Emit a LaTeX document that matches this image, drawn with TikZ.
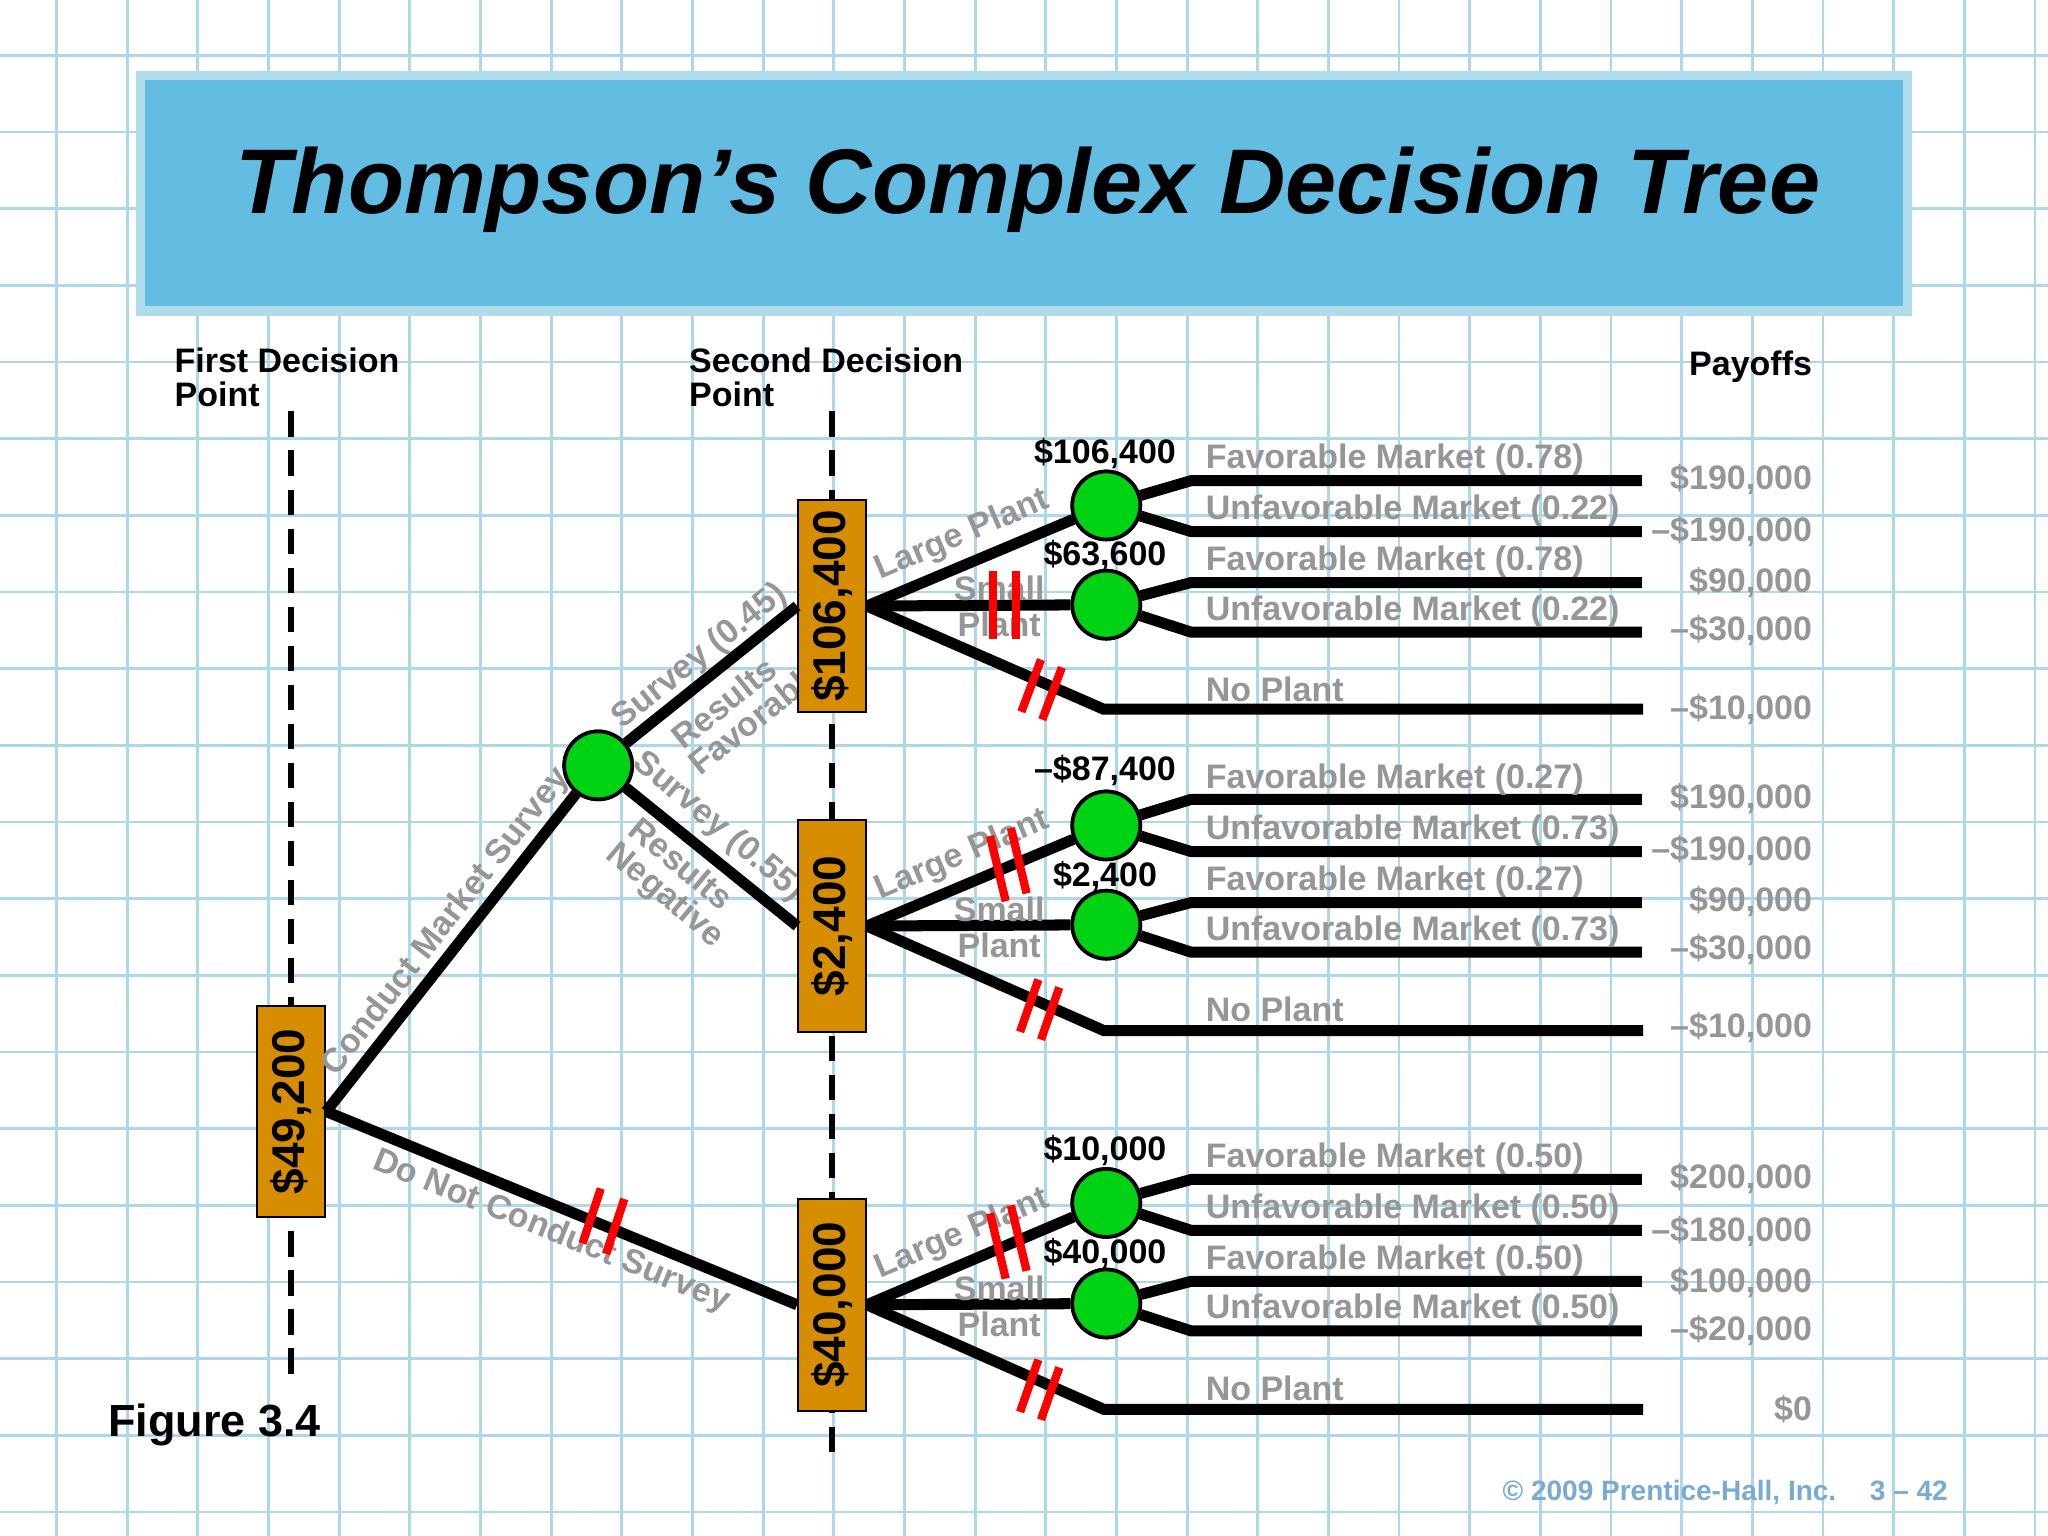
\documentclass[tikz,border=0pt]{standalone}
\usepackage{fontspec}
\setmainfont{Liberation Sans}
\definecolor{gridc}{RGB}{175,215,235}
\definecolor{boxc}{RGB}{214,142,0}
\definecolor{greenc}{RGB}{0,210,20}
\definecolor{grayc}{RGB}{150,150,150}
\definecolor{titlec}{RGB}{99,188,226}
\definecolor{titleb}{RGB}{175,220,235}
\definecolor{copyc}{RGB}{120,170,210}
\begin{document}
\begin{tikzpicture}[x=0.01cm,y=-0.01cm,
  box/.style={draw=black,fill=boxc,minimum width=0.52cm,minimum height=1.62cm,inner sep=0pt},
  chance/.style={circle,draw=black,line width=0.8pt,fill=greenc,minimum size=0.52cm,inner sep=0pt},
  br/.style={line width=2.4pt,black},
  lab/.style={text=grayc,font=\bfseries\fontsize{7.4}{7.8}\selectfont,inner sep=1pt},
  pay/.style={text=grayc,font=\bfseries\fontsize{7.4}{8}\selectfont,anchor=east,inner sep=0pt},
  val/.style={font=\bfseries\fontsize{7.4}{8}\selectfont,inner sep=0pt},
  bv/.style={font=\bfseries\fontsize{10}{10}\selectfont,rotate=90},
  hd/.style={font=\bfseries\fontsize{7.4}{7.4}\selectfont,anchor=north west,align=left,inner sep=0pt},
  hash/.style={red,line width=1.8pt},
  dl/.style={line width=1.3pt,dash pattern=on 5.5pt off 3pt}]
\useasboundingbox (0,0) rectangle (1568,1176);
\fill[white] (0,0) rectangle (1568,1176);
\foreach \k in {0,...,28} \draw[gridc,line width=0.6pt] ({43.3+54.1*\k},0)--({43.3+54.1*\k},1176);
\foreach \k in {-1,...,19} \draw[gridc,line width=0.6pt] (0,{42.4+58.7*\k})--(1568,{42.4+58.7*\k});
% title
\node[draw=titleb,line width=2pt,fill=titlec,minimum width=13.52cm,minimum height=1.8cm,inner sep=0pt] (title) at (784,148) {};
\node[font=\bfseries\itshape\fontsize{20}{22}\selectfont] at (787,145) {Thompson’s Complex Decision Tree};
% headers
\node[hd] (h1) at (133,266) {First Decision\\Point};
\node[hd] (h2) at (527,266) {Second Decision\\Point};
\node[hd,anchor=north east] (h3) at (1388,268) {Payoffs};
\draw[dl] (223,315)--(223,1055);
\draw[dl] (637,315)--(637,1115);
% coords
\coordinate (e1) at (912,368); \coordinate (e2) at (912,407);
\coordinate (e3) at (912,446); \coordinate (e4) at (912,484);
\coordinate (e5) at (912,612); \coordinate (e6) at (912,652);
\coordinate (e7) at (912,691); \coordinate (e8) at (912,729);
\coordinate (e9) at (912,903); \coordinate (e10) at (912,942);
\coordinate (e11) at (912,981); \coordinate (e12) at (912,1019);
\coordinate (npA) at (845,543); \coordinate (npB) at (845,789); \coordinate (npC) at (845,1079);
\foreach \i/\y in {1/368,2/407,3/446,4/484,5/612,6/652,7/691,8/729,9/903,10/942,11/981,12/1019} \coordinate (f\i) at (1257,\y);
\coordinate (gA) at (1258,543); \coordinate (gB) at (1258,789); \coordinate (gC) at (1258,1079);
% survey labels (behind boxes)
\node[lab,rotate=38.6] at (536,503) {Survey (0.45)};
\node[lab,rotate=38.6] at (554,538) {Results};
\node[lab,rotate=38.6,anchor=south west,inner sep=0pt] at (536,596) {Favorable};
\node[lab,rotate=-40] at (550,633) {Survey (0.55)};
\node[lab,rotate=-40] at (522,661) {Results};
\node[lab,rotate=-40] at (509,686) {Negative};
% nodes
\node[box] (b0) at (223,851) {};
\node[box] (bA) at (637,464) {};
\node[box] (bB) at (637,709) {};
\node[box] (bC) at (637,999) {};
\node[chance] (s) at (458,586) {};
\node[chance] (c1) at (847,387) {};
\node[chance] (c2) at (847,463) {};
\node[chance] (c3) at (847,632) {};
\node[chance] (c4) at (847,708) {};
\node[chance] (c5) at (847,921) {};
\node[chance] (c6) at (847,998) {};
% branches
\draw[br] (b0.east) -- (s);
\draw[br] (b0.east) -- (bC.west);
\draw[br] (s) -- (bA.west);
\draw[br] (s) -- (bB.west);
\draw[br] (bA.east) -- (c1); \draw[br] (bA.east) -- (c2); \draw[br] (bA.east) -- (npA) -- (gA);
\draw[br] (bB.east) -- (c3); \draw[br] (bB.east) -- (c4); \draw[br] (bB.east) -- (npB) -- (gB);
\draw[br] (bC.east) -- (c5); \draw[br] (bC.east) -- (c6); \draw[br] (bC.east) -- (npC) -- (gC);
\foreach \c/\a/\b in {c1/1/2,c2/3/4,c3/5/6,c4/7/8,c5/9/10,c6/11/12}{
  \draw[br] (\c) -- (e\a) -- (f\a);
  \draw[br] (\c) -- (e\b) -- (f\b);}
\node[chance] at (s) {};
\node[chance] at (c1) {}; \node[chance] at (c2) {}; \node[chance] at (c3) {};
\node[chance] at (c4) {}; \node[chance] at (c5) {}; \node[chance] at (c6) {};
% box values
\node[bv] at (b0) {\$49,200};
\node[bv] at (bA) {\$106,400};
\node[bv] at (bB) {\$2,400};
\node[bv] at (bC) {\$40,000};
% node values
\node[val] at (846,347) {\$106,400};
\node[val] at (846,425) {\$63,600};
\node[val] at (846,590) {--\$87,400};
\node[val] at (846,671) {\$2,400};
\node[val] at (846,881) {\$10,000};
\node[val] at (846,960) {\$40,000};
% outcome labels
\foreach \y/\t in {352/Favorable Market (0.78),391/Unfavorable Market (0.22),430/Favorable Market (0.78),468/Unfavorable Market (0.22),528/No Plant,
597/Favorable Market (0.27),636/Unfavorable Market (0.73),675/Favorable Market (0.27),713/Unfavorable Market (0.73),773/No Plant,
887/Favorable Market (0.50),926/Unfavorable Market (0.50),965/Favorable Market (0.50),1003/Unfavorable Market (0.50),1063/No Plant}
  \node[lab,anchor=west] at (919,\y) {\t};
% payoffs
\foreach \y/\t in {367/\$190{,}000,407/--\$190{,}000,446/\$90{,}000,483/--\$30{,}000,543/--\$10{,}000,
611/\$190{,}000,651/--\$190{,}000,690/\$90{,}000,727/--\$30{,}000,787/--\$10{,}000,
902/\$200{,}000,943/--\$180{,}000,982/\$100{,}000,1019/--\$20{,}000,1079/\$0}
  \node[pay] at (1388,\y) {\t};
% branch labels
\node[lab,rotate=23] at (737,410) {Large Plant};
\node[lab,align=center] at (765,464) {Small\\Plant};
\node[lab,rotate=23] at (737,655) {Large Plant};
\node[lab,align=center] at (765,710) {Small\\Plant};
\node[lab,rotate=23] at (737,945) {Large Plant};
\node[lab,align=center] at (765,1000) {Small\\Plant};
\node[lab,rotate=52] at (342,706) {Conduct Market Survey};
\node[lab,rotate=-22] at (422,943) {Do Not Conduct Survey};
% hash marks
\draw[hash] (760,437)--(760,489) (778,437)--(778,489);
\draw[hash] (797,505)--(782,545) (813,511)--(798,551);
\draw[hash] (460,910)--(446,952) (478,918)--(464,960);
\draw[hash] (758,640)--(770,690) (774,634)--(786,684);
\draw[hash] (795,750)--(781,790) (811,756)--(797,796);
\draw[hash] (758,929)--(770,979) (774,923)--(786,973);
\draw[hash] (795,1041)--(781,1081) (811,1047)--(797,1087);
% footer
\node[font=\bfseries\fontsize{9.8}{10}\selectfont,anchor=west,inner sep=0pt] (fig) at (82,1091) {Figure 3.4};
\node[font=\bfseries\fontsize{6.1}{7}\selectfont,text=copyc,anchor=east,inner sep=0pt] (cp) at (1492,1143) {© 2009 Prentice-Hall, Inc.\hspace{1.2em}3 -- 42};
\end{tikzpicture}
\end{document}
